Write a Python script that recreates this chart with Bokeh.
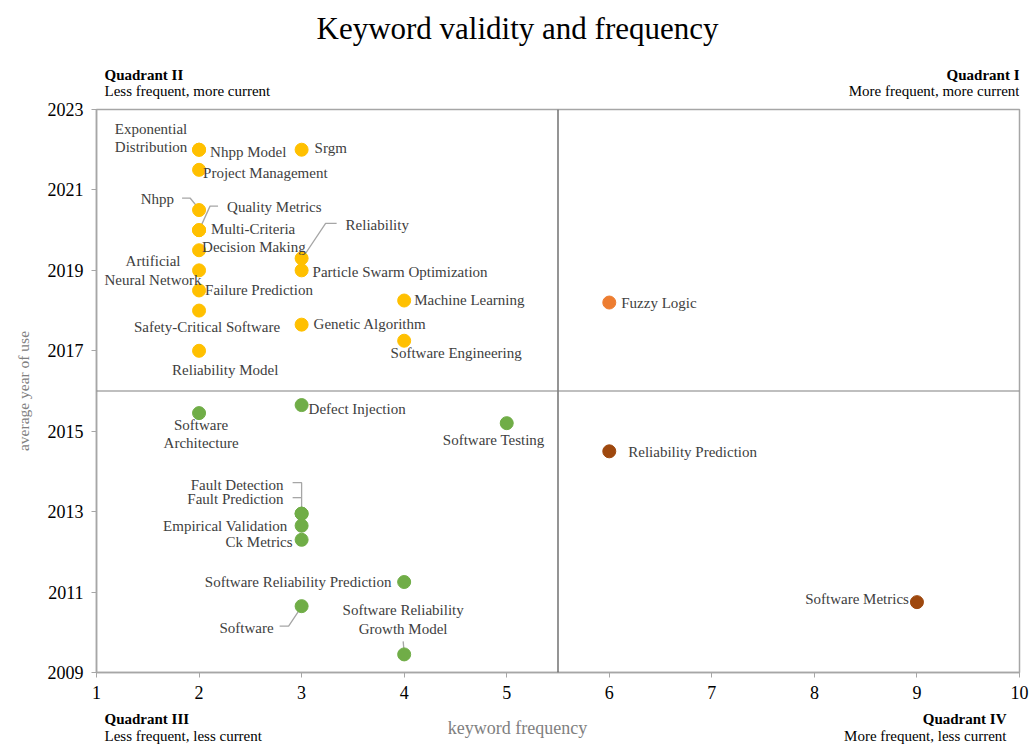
from bokeh.plotting import figure
from bokeh.models import ColumnDataSource, Span, FixedTicker, Range1d
from bokeh.layouts import column
from bokeh.core.properties import value
from bokeh.embed import file_html
from bokeh.resources import INLINE

# ---------------- data ----------------
q2_names = ["Exponential\nDistribution", "Nhpp Model", "Srgm", "Project Management", "Nhpp",
            "Quality Metrics", "Multi-Criteria", "Decision Making", "Reliability",
            "Particle Swarm Optimization", "Artificial\nNeural Network", "Failure Prediction",
            "Safety-Critical Software", "Genetic Algorithm", "Machine Learning",
            "Software Engineering", "Reliability  Model"]
q2_freq = [2, 2, 3, 2, 2, 2, 2, 2, 3, 3, 2, 2, 2, 3, 4, 4, 2]
q2_year = [2022, 2022, 2022, 2021.5, 2020.5, 2020, 2020, 2019.5, 2019.3, 2019, 2019,
           2018.5, 2018, 2017.65, 2018.25, 2017.25, 2017]

q3_names = ["Software\nArchitecture", "Defect Injection", "Software Testing", "Fault Detection",
            "Fault Prediction", "Empirical Validation", "Ck Metrics",
            "Software Reliability  Prediction", "Software", "Software Reliability\nGrowth Model"]
q3_freq = [2, 3, 5, 3, 3, 3, 3, 4, 3, 4]
q3_year = [2015.45, 2015.65, 2015.2, 2012.95, 2012.95, 2012.65, 2012.3, 2011.25, 2010.65, 2009.45]

q1_names = ["Fuzzy Logic"]
q1_freq = [6]
q1_year = [2018.2]

q4_names = ["Reliability  Prediction", "Software Metrics"]
q4_freq = [6, 9]
q4_year = [2014.5, 2010.75]

x_ticks = [1, 2, 3, 4, 5, 6, 7, 8, 9, 10]
y_ticks = [2009, 2011, 2013, 2015, 2017, 2019, 2021, 2023]

title_text = "Keyword validity and frequency"
x_label = "keyword frequency"
y_label = "average year of use"
quad_titles = ["Quadrant I", "Quadrant II", "Quadrant III", "Quadrant IV"]
quad_subs = ["More frequent, more current", "Less frequent, more current",
             "Less frequent, less current", "More frequent, less current"]

# ---------------- label placement (screen px offsets, +down) ----------------
label_pos = {
    "Exponential\nDistribution": (-48, -12, "center"),
    "Nhpp Model": (11, 2, "left"),
    "Srgm": (13, -2, "left"),
    "Project Management": (4, 3, "left"),
    "Nhpp": (-25, -11, "right"),
    "Quality Metrics": (28, -23, "left"),
    "Multi-Criteria": (12, -1, "left"),
    "Decision Making": (3, -3, "left"),
    "Reliability": (44, -33, "left"),
    "Particle Swarm Optimization": (11, 2, "left"),
    "Artificial\nNeural Network": (-46, 0, "center"),
    "Failure Prediction": (6, 0, "left"),
    "Safety-Critical Software": (8, 16, "center"),
    "Genetic Algorithm": (12, -1, "left"),
    "Machine Learning": (10, -1, "left"),
    "Software Engineering": (52, 12, "center"),
    "Reliability  Model": (28, 19, "center"),
    "Software\nArchitecture": (2, 21, "center"),
    "Defect Injection": (7, 4, "left"),
    "Software Testing": (-13, 17, "center"),
    "Fault Detection": (-18, -29, "right"),
    "Fault Prediction": (-18, -15, "right"),
    "Empirical Validation": (-14, 0, "right"),
    "Ck Metrics": (-9, 2, "right"),
    "Software Reliability  Prediction": (-9, 0, "right"),
    "Software": (-28, 22, "right"),
    "Software Reliability\nGrowth Model": (-1, -35, "center"),
    "Fuzzy Logic": (12, 0, "left"),
    "Reliability  Prediction": (19, 1, "left"),
    "Software Metrics": (-8, -3, "right"),
}

leaders = {
    "Nhpp": [(-17, -12), (-9, -12), (0, -1)],
    "Quality Metrics": [(19, -24), (11, -24), (1, -2)],
    "Reliability": [(35, -35), (24, -35), (2, -2)],
    "Fault Detection": [(-9, -31), (0, -31), (0, -2)],
    "Fault Prediction": [(-9, -16), (0, -16)],
    "Software": [(-22, 20), (-13, 20), (-1, 2)],
    "Software Reliability\nGrowth Model": [(-1, -13), (0, -2)],
}

FONT = "Liberation Serif"
LEFT, RIGHT = 96, 12
FW, FH = 923, 563
HEAD_H, FOOT_H = 99, 36
X0, X1, Y0, Y1 = 1, 10, 2009, 2023
PXX = FW / (X1 - X0)
PXY = FH / (Y1 - Y0)


def blank(height):
    f = figure(frame_width=FW, frame_height=height, x_range=Range1d(X0, X1),
               y_range=Range1d(height, 0), output_backend="svg", toolbar_location=None,
               min_border_left=LEFT, min_border_right=RIGHT, min_border_top=0,
               min_border_bottom=0, x_axis_type=None, y_axis_type=None)
    f.grid.visible = False
    f.outline_line_color = None
    return f


def put(f, x, y, txt, dx=0, align="left", size="15px", style="normal", color="#000000"):
    f.text(x=[x], y=[y], text=[txt], x_offset=dx, text_align=align, text_baseline="middle",
           text_font=value(FONT), text_font_size=size, text_font_style=style, text_color=color)


# ---------------- header ----------------
head = blank(HEAD_H)
put(head, X0, 28, title_text, dx=421, align="center", size="31px")
put(head, X1, 74.5, quad_titles[0], dx=0, align="right", style="bold")
put(head, X1, 90.5, quad_subs[0], dx=0, align="right")
put(head, X0, 74.5, quad_titles[1], dx=8, align="left", style="bold")
put(head, X0, 90.5, quad_subs[1], dx=8, align="left")

# ---------------- main plot ----------------
p = figure(frame_width=FW, frame_height=FH, x_range=(X0, X1), y_range=(Y0, Y1),
           output_backend="svg", toolbar_location=None,
           min_border_left=LEFT, min_border_right=RIGHT, min_border_top=109 - HEAD_H,
           min_border_bottom=36, background_fill_color="white", border_fill_color="white")
p.grid.visible = False
p.outline_line_color = "#A6A6A6"
p.outline_line_width = 1.5

for ax, ticks in ((p.xaxis, x_ticks), (p.yaxis, y_ticks)):
    ax.ticker = FixedTicker(ticks=ticks)
    ax.axis_line_color = "#A6A6A6"
    ax.axis_line_width = 1.5
    ax.major_tick_line_color = "#A6A6A6"
    ax.major_tick_out = 5
    ax.major_tick_in = 0
    ax.minor_tick_line_color = None
    ax.major_label_text_font = FONT
    ax.major_label_text_color = "#000000"
    ax.major_label_standoff = 8
    ax.major_label_text_font_size = "18px"
p.yaxis.axis_label = y_label
p.yaxis.axis_label_text_font = FONT
p.yaxis.axis_label_text_font_size = "15.5px"
p.yaxis.axis_label_text_font_style = "normal"
p.yaxis.axis_label_text_color = "#808080"
p.yaxis.axis_label_standoff = 13

# quadrant dividers
p.add_layout(Span(location=5.5, dimension="height", line_color="#4d4d4d", line_width=1.2))
p.add_layout(Span(location=2016, dimension="width", line_color="#808080", line_width=1.2))

all_names = q2_names + q3_names + q1_names + q4_names
all_freq = q2_freq + q3_freq + q1_freq + q4_freq
all_year = q2_year + q3_year + q1_year + q4_year

# leader lines
for n, f, yv in zip(all_names, all_freq, all_year):
    if n in leaders:
        pts = leaders[n]
        xs = [f + dx / PXX for dx, dy in pts]
        ys = [yv - dy / PXY for dx, dy in pts]
        p.line(xs, ys, line_color="#A6A6A6", line_width=1.3)

# markers
for names, fr, yr, col in ((q2_names, q2_freq, q2_year, "#FFC000"),
                           (q3_names, q3_freq, q3_year, "#70AD47"),
                           (q1_names, q1_freq, q1_year, "#ED7D31"),
                           (q4_names, q4_freq, q4_year, "#9E480E")):
    p.scatter(fr, yr, size=13, fill_color=col, line_color=col)

# data labels
for align in ("left", "right", "center"):
    d = dict(x=[], y=[], text=[], dx=[], dy=[])
    for n, f, yv in zip(all_names, all_freq, all_year):
        dx, dy, a = label_pos[n]
        if a == align:
            d["x"].append(f); d["y"].append(yv); d["text"].append(n)
            d["dx"].append(dx); d["dy"].append(dy)
    p.text(x="x", y="y", text="text", x_offset="dx", y_offset="dy",
           source=ColumnDataSource(d), text_align=align, text_baseline="middle",
           text_font_size="15px", text_font=value(FONT),
           text_color="#404040", text_line_height=1.15)

# ---------------- footer ----------------
foot = blank(FOOT_H)
put(foot, X0, 10, quad_titles[2], dx=8, align="left", style="bold")
put(foot, X0, 27.5, quad_subs[2], dx=8, align="left")
put(foot, X1, 10, quad_titles[3], dx=-13, align="right", style="bold")
put(foot, X1, 27.5, quad_subs[3], dx=-13, align="right")
put(foot, X0, 19, x_label, dx=421, align="center", size="18px", color="#808080")

layout = column(head, p, foot, spacing=0)
open("out.html", "w").write(file_html(layout, INLINE))
